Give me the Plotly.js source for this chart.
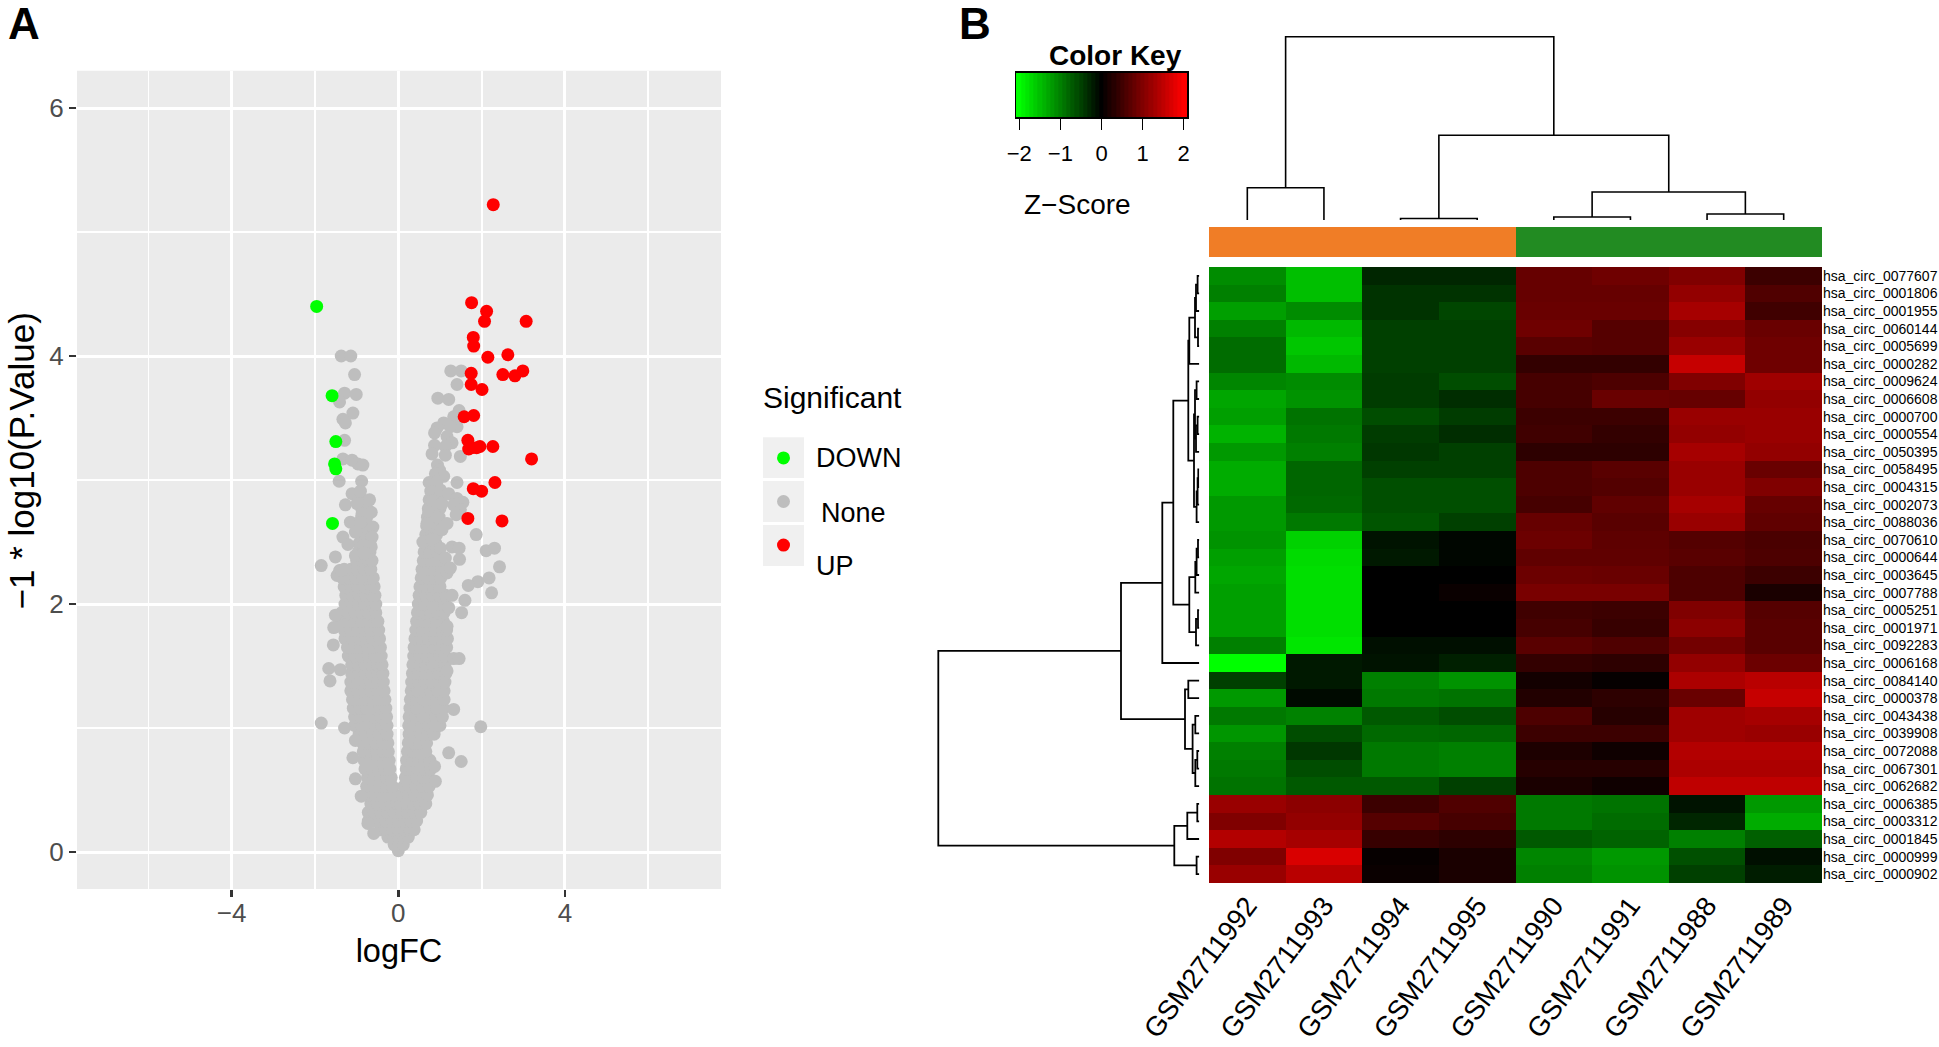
<!DOCTYPE html>
<html><head><meta charset="utf-8">
<script src="https://cdn.plot.ly/plotly-3.0.1.min.js"></script>
<style>html,body{margin:0;padding:0;background:#fff}</style></head>
<body><div id="chart" style="width:1939px;height:1047px"></div>
<script>
// ---------- Panel A: volcano ----------
const upX=[2.28,1.76,2.12,2.07,3.07,1.80,1.81,2.15,2.63,1.75,2.51,2.80,2.99,1.75,2.01,1.58,1.81,1.67,1.69,1.76,1.88,1.96,2.27,3.20,2.32,1.80,2.00,1.67,2.49];
const upY=[5.22,4.43,4.36,4.28,4.28,4.15,4.08,3.99,4.01,3.86,3.85,3.84,3.88,3.77,3.73,3.51,3.52,3.32,3.25,3.26,3.26,3.27,3.27,3.17,2.98,2.93,2.91,2.69,2.67];
const downX=[-1.96,-1.59,-1.50,-1.53,-1.50,-1.58];
const downY=[4.40,3.68,3.31,3.13,3.09,2.65];
const greyOutX=[-1.37,-1.14,-1.05,-1.29,-1.01,-1.41,-1.09,-1.33,-1.27,-1.29,-1.33,-1.11,-.97,-.85,-1.42,-.88,-1.11,-.91,-.69,-1.27,-.99,-.65,-.87,-1.15,-.91,-.61,-1.03,-1.33,-1.21,-.63,-.65,-.83,-1.51,-1.03,-.83,-1.85,-1.41,-1.47,-1.37,-1.51,-1.55,-1.56,-1.67,-1.64,-1.39,-1.85,-1.29,-1.03,-1.09,-1.03,-.89,-.73,-.59,
1.26,1.51,1.41,.95,1.21,1.46,1.33,1.09,.93,.87,1.41,1.25,1.17,1.29,.87,1.13,.81,1.13,1.49,.94,.99,.89,1.09,.74,.93,1.41,.81,1.01,1.21,1.41,1.55,1.33,.81,1.05,1.49,1.39,.73,.93,.69,1.17,1.05,.59,.81,1.29,1.46,1.87,2.11,2.31,1.01,1.47,1.13,2.43,2.24,2.18,1.91,1.68,1.60,1.52,1.17,1.33,1.46,1.17,1.33,1.98,1.21,1.51,.87,.89,1.21,1.29,1.17,1.25];
const greyOutY=[4.00,4.00,3.85,3.70,3.69,3.63,3.54,3.49,3.46,3.32,3.17,3.16,3.13,3.12,2.99,2.99,2.89,2.91,2.84,2.80,2.81,2.74,2.73,2.66,2.66,2.62,2.58,2.54,2.48,2.54,2.46,2.47,2.38,2.39,2.41,2.31,2.27,2.23,2.27,1.91,1.81,1.67,1.48,1.38,1.47,1.04,1.00,.90,.76,.59,.45,.23,.15,
3.88,3.88,3.77,3.66,3.65,3.56,3.51,3.46,3.42,3.38,3.43,3.43,3.35,3.30,3.28,3.27,3.21,3.20,3.19,3.12,3.08,3.05,3.03,2.98,2.99,2.98,2.91,2.92,2.89,2.85,2.82,2.80,2.83,2.81,2.76,2.72,2.74,2.70,2.65,2.65,2.60,2.50,2.52,2.46,2.45,2.56,2.43,2.45,2.45,2.36,2.37,2.30,2.09,2.21,2.18,2.15,2.03,1.93,1.82,1.56,1.56,1.46,1.15,1.01,.80,.73,.69,.57,1.97,2.07,2.25,2.29];
const greyMassY=[.01,.06,.12,.18,.25,.32,.39,.46,.53,.60,.67,.74,.81,.88,.95,1.02,1.09,1.16,1.23,1.30,1.37,1.44,1.51,1.58,1.65,1.72,1.79,1.86,1.93,2.00,2.07,2.14,2.21,2.28,2.35,2.42,2.49,2.56,2.63,2.70,2.77,2.84,2.91];
const greyMassX=[[0],[-.1,.02,.12],[-.25,-.12,0,.12,.24],[-.42,-.28,-.14,0,.14,.28,.38],[-.72,-.58,-.44,-.3,-.15,0,.15,.3,.44],
[-.72,-.58,-.42,-.26,-.1,.08,.22,.38,.54],[-.66,-.5,-.34,-.18,-.03,.05,.2,.36,.52,.66],[-.7,-.55,-.4,-.25,-.09,.08,.24,.4,.56,.7],[-.76,-.6,-.44,-.28,-.14,.13,.26,.42,.58,.74],[-.74,-.58,-.42,-.28,-.17,.17,.3,.44,.6,.74],
[-.8,-.64,-.48,-.32,-.2,.19,.32,.46,.62,.78],[-.82,-.66,-.5,-.34,-.22,.2,.34,.48,.64,.76],[-.84,-.68,-.52,-.36,-.24,.22,.36,.5,.66],[-.86,-.7,-.54,-.38,-.25,.24,.38,.52,.68],[-.94,-.78,-.62,-.46,-.36,-.27,.26,.38,.54,.7,.86],
[-1.05,-.88,-.72,-.56,-.4,-.27,.25,.4,.56,.72,.9,1.0],[-1.05,-.9,-.74,-.58,-.42,-.28,.26,.42,.58,.74,.9,1.06],[-1.08,-.92,-.76,-.6,-.44,-.3,.28,.44,.6,.76,.92,1.08],[-1.1,-.94,-.78,-.62,-.46,-.32,.29,.44,.6,.76,.92,1.1],[-1.14,-.98,-.82,-.66,-.5,-.34,.31,.46,.62,.78,.94,1.1],
[-1.14,-.98,-.82,-.66,-.5,-.36,.32,.48,.64,.8,.96,1.12],[-1.12,-.96,-.8,-.64,-.5,-.37,.34,.5,.66,.82,.98,1.14],[-1.12,-.96,-.8,-.64,-.5,-.39,.35,.5,.66,.82,.98,1.12],[-1.2,-1.04,-.88,-.72,-.56,-.41,.37,.52,.68,.84,1.0,1.12],[-1.22,-1.06,-.9,-.74,-.58,-.43,.38,.54,.7,.86,1.02,1.16],
[-1.28,-1.1,-.94,-.78,-.62,-.45,.4,.56,.72,.88,1.04,1.18],[-1.3,-1.14,-.98,-.82,-.66,-.47,.42,.58,.74,.9,1.06,1.16],[-1.38,-1.2,-1.04,-.88,-.72,-.56,-.49,.44,.6,.76,.92,1.08],[-1.36,-1.2,-1.04,-.88,-.72,-.54,.46,.62,.78,.94,1.1],[-1.28,-1.12,-.96,-.8,-.64,-.54,.48,.64,.8,.96,1.12],
[-1.26,-1.1,-.94,-.78,-.62,-.56,.5,.66,.82,.98,1.14],[-1.3,-1.14,-.98,-.82,-.66,-.58,.52,.68,.84,1],[-1.34,-1.18,-1.02,-.86,-.7,-.6,.55,.7,.86,1.02],[-1.3,-1.14,-.98,-.82,-.66,.57,.72,.88,1.04],[-1.0,-.86,-.72,-.63,.6,.76,.9,1.02],
[-.96,-.82,-.68,.62,.76,.92],[-.94,-.8,-.68,.64,.78,.9],[-.92,-.78,-.68,.66,.8,.92],[-.9,-.76,.68,.82,.98],[-.88,-.76,.7,.84,.98],[-.88,-.76,.72,.86,1.0],[-.86,.74,.86,.98],[.78,.9]];
const xTicks=[-4,0,4], xTickText=['\u22124','0','4'], xMinor=[-6,-2,2,6];
const yTicks=[0,2,4,6], yMinor=[1,3,5];
const legendLabels=['DOWN','None','UP'];
const legendColors=['#00FF00','#BEBEBE','#FF0000'];

// ---------- Panel B: heatmap ----------
const samples=['GSM2711992','GSM2711993','GSM2711994','GSM2711995','GSM2711990','GSM2711991','GSM2711988','GSM2711989'];
const sampleGroup=[0,0,0,0,1,1,1,1];
const circIds=['0077607','0001806','0001955','0060144','0005699','0000282','0009624','0006608','0000700','0000554','0050395','0058495','0004315','0002073','0088036','0070610','0000644','0003645','0007788','0005251','0001971','0092283','0006168','0084140','0000378','0043438','0039908','0072088','0067301','0062682','0006385','0003312','0001845','0000999','0000902'];
const zScores=[
[-1.1,-1.5,-.3,-.3,.8,.87,1.0,.47],[-1,-1.5,-.4,-.4,.8,.8,1.15,.63],[-1.25,-1.1,-.4,-.55,.82,.82,1.3,.5],[-1,-1.45,-.5,-.5,.87,.67,1.05,.82],[-.85,-1.55,-.5,-.5,.7,.67,1.2,.87],
[-.85,-1.45,-.5,-.5,.4,.4,1.55,.87],[-1.05,-1.1,-.47,-.6,.55,.6,1,1.25],[-1.3,-1.15,-.47,-.35,.55,.82,.8,1.15],[-1.25,-.9,-.6,-.47,.47,.47,1.2,1.2],[-1.4,-.95,-.47,-.35,.5,.4,1.15,1.2],
[-1.2,-1,-.43,-.5,.35,.35,1.3,1.15],[-1.35,-.8,-.5,-.5,.6,.7,1.2,.82],[-1.35,-.8,-.62,-.62,.6,.65,1.2,1],[-1.2,-.82,-.62,-.62,.55,.75,1.3,.8],[-1.2,-.95,-.67,-.5,.8,.7,1.2,.75],
[-1.15,-1.65,-.15,-.05,.85,.74,.66,.58],[-1.25,-1.72,-.2,-.05,.75,.75,.7,.6],[-1.3,-1.75,0,0,.85,.82,.6,.47],[-1.25,-1.75,0,.08,.95,.95,.6,.2],[-1.25,-1.75,0,0,.5,.47,1,.67],
[-1.25,-1.75,0,0,.55,.43,1.1,.7],[-1,-1.8,-.12,-.12,.7,.62,.9,.7],[-2,-.2,-.15,-.25,.4,.35,1.15,.85],[-.5,-.2,-1,-1.15,.15,.05,1.35,1.45],[-1.2,-.08,-.95,-.9,.27,.35,.82,1.55],
[-.95,-1.02,-.7,-.6,.6,.3,1.25,1.3],[-1.18,-.6,-.82,-.8,.47,.47,1.25,1.2],[-1,-.43,-.95,-1,.23,.12,1.4,1.4],[-.95,-.6,-.95,-1,.3,.3,1.35,1.35],[-.9,-.7,-.7,-.5,.2,.12,1.5,1.5],
[1.2,1.1,.47,.63,-.95,-.9,-.15,-1.2],[1,1.15,.67,.55,-.95,-.85,-.3,-1.35],[1.4,1.3,.43,.35,-.7,-.78,-1,-.75],[1,1.7,.05,.2,-1.05,-1.2,-.63,-.12],[1.2,1.45,.08,.2,-1,-1.15,-.5,-.23]];
const keyValues=[-2.08,-2,-1.9,-1.8,-1.7,-1.6,-1.5,-1.4,-1.3,-1.2,-1.1,-1,-.9,-.8,-.7,-.6,-.5,-.4,-.3,-.2,-.1,0,.1,.2,.3,.4,.5,.6,.7,.8,.9,1,1.1,1.2,1.3,1.4,1.5,1.6,1.7,1.8,1.9,2,2.08];
const keyTicks=[-2,-1,0,1,2], keyTickText=['\u22122','\u22121','0','1','2'];
// dendrogram merges, hclust style: negative = leaf -(index+1), positive = earlier merge (1-based)
const rowMergeA=[-1,1,-4,2,4,-7,-9,7,6,-12,10,11,9,5,-16,15,16,-20,18,17,14,21,-24,-26,-28,25,24,23,22,-31,30,-34,31,29];
const rowMergeB=[-2,-3,-5,3,-6,-8,-10,-11,8,-13,-14,-15,12,13,-17,-18,-19,-21,-22,19,20,-23,-25,-27,-29,-30,26,27,28,-32,-33,-35,32,33];
const rowMergeH=[1.7,3.3,1.3,4.3,10,2.7,1.7,3.3,4.3,1,1.7,2.7,5.3,11,1.3,2.7,4,1.3,3.3,10,26,37,11,4,2,4,6.7,14.3,78.3,2,12,2.7,25,261];
const colMergeA=[-1,-3,-5,-7,3,2,1];
const colMergeB=[-2,-4,-6,-8,4,5,6];
const colMergeH=[32.3,1.5,3,6,28,84.7,183.3];

// ---------- geometry helpers (page pixels to paper fractions) ----------
const W=1939,H=1047;
const dx=(a,b)=>[a/W,b/W];
const dy=(top,bot)=>[1-bot/H,1-top/H];
const FONT='"Liberation Sans",Arial,sans-serif';

function dendro(A,B,Hh){
  const pos=[],ht=[],cx=[],ch=[];
  const get=i=>i<0?[-i-1,0]:[cx[i-1],ch[i-1]];
  A.forEach((a,k)=>{
    const [p1,h1]=get(a),[p2,h2]=get(B[k]),h=Hh[k];
    pos.push(p1,p1,p2,p2,null); ht.push(h1,h,h,h2,null);
    cx.push((p1+p2)/2); ch.push(h);
  });
  return {pos,ht};
}
const rowD=dendro(rowMergeA,rowMergeB,rowMergeH);
const colD=dendro(colMergeA,colMergeB,colMergeH);
const greyX=[].concat(...greyMassX,greyOutX);
const greyY=[].concat(...greyMassX.map((r,i)=>r.map(()=>greyMassY[i])),greyOutY);
const gkr=[[0,'#00FF00'],[.5,'#000000'],[1,'#FF0000']];
const rows=circIds.map((_,i)=>i), cols=samples.map((_,i)=>i);
const dot=(c)=>({size:13,color:c,line:{width:0}});

const traces=[
 {type:'scatter',mode:'markers',name:'None',x:greyX,y:greyY,marker:dot('#BEBEBE'),xaxis:'x',yaxis:'y',hoverinfo:'skip'},
 {type:'scatter',mode:'markers',name:'DOWN',x:downX,y:downY,marker:dot('#00FF00'),xaxis:'x',yaxis:'y'},
 {type:'scatter',mode:'markers',name:'UP',x:upX,y:upY,marker:dot('#FF0000'),xaxis:'x',yaxis:'y'},
 {type:'heatmap',x:cols,y:rows,z:zScores,zmin:-2,zmax:2,colorscale:gkr,showscale:false,xaxis:'x2',yaxis:'y2'},
 {type:'heatmap',x:keyValues,y:[0],z:[keyValues],zmin:-2,zmax:2,colorscale:gkr,showscale:false,xaxis:'x3',yaxis:'y3',hoverinfo:'skip'},
 {type:'heatmap',x:cols,y:[0],z:[sampleGroup],zmin:0,zmax:1,colorscale:[[0,'#F07D26'],[1,'#228B22']],showscale:false,xaxis:'x4',yaxis:'y4',hoverinfo:'skip'},
 {type:'scatter',mode:'lines',x:rowD.ht,y:rowD.pos,line:{color:'#000',width:1.8},xaxis:'x5',yaxis:'y5',connectgaps:false,hoverinfo:'skip'},
 {type:'scatter',mode:'lines',x:colD.pos,y:colD.ht,line:{color:'#000',width:1.6},xaxis:'x6',yaxis:'y6',connectgaps:false,hoverinfo:'skip'},
 {type:'scatter',mode:'markers',x:legendLabels.map(()=>0),y:legendLabels.map((_,i)=>i),marker:{size:13,color:legendColors},xaxis:'x7',yaxis:'y7',hoverinfo:'skip'}
];
const off={visible:false,fixedrange:true};
const panelRect={type:'rect',xref:'paper',yref:'paper',x0:77/W,x1:721/W,y0:1-889/H,y1:1-70.7/H,fillcolor:'#EBEBEB',line:{width:0},layer:'below'};
const layout={
 width:W,height:H,autosize:false,margin:{l:0,r:0,t:0,b:0,pad:0},paper_bgcolor:'#fff',plot_bgcolor:'rgba(0,0,0,0)',showlegend:false,
 font:{family:FONT,color:'#000'},hovermode:false,
 xaxis:{domain:dx(77,721),range:[(77-398.3)/41.65,(721-398.3)/41.65],anchor:'y',tickmode:'array',tickvals:xTicks,ticktext:xTickText,
   showgrid:true,gridcolor:'#fff',gridwidth:3,zeroline:false,ticks:'outside',ticklen:7,tickwidth:2.6,tickcolor:'#333',
   tickfont:{size:26,color:'#4D4D4D'},showline:false,ticklabelstandoff:-6,
   minor:{tickmode:'array',tickvals:xMinor,showgrid:true,gridcolor:'#fff',gridwidth:1.8,ticks:''},
   title:{text:'logFC',font:{size:32.5,color:'#000'},standoff:12}},
 yaxis:{domain:dy(70.7,889),range:[(852-889)/124,(852-70.7)/124],anchor:'x',tickmode:'array',tickvals:yTicks,
   showgrid:true,gridcolor:'#fff',gridwidth:3,zeroline:false,ticks:'outside',ticklen:7,tickwidth:2.6,tickcolor:'#333',
   tickfont:{size:26,color:'#4D4D4D'},showline:false,
   minor:{tickmode:'array',tickvals:yMinor,showgrid:true,gridcolor:'#fff',gridwidth:1.8,ticks:''}},
 xaxis2:{domain:dx(1209,1822),range:[-.5,7.5],anchor:'y2',tickmode:'array',tickvals:cols,ticktext:samples,tickangle:-53,
   tickfont:{size:27.5,color:'#000'},ticks:'',showgrid:false,zeroline:false,showline:false},
 yaxis2:{domain:dy(267,883),range:[34.5,-.5],anchor:'x2',side:'right',tickmode:'array',tickvals:rows,ticktext:circIds.map(s=>'hsa_circ_'+s),
   tickfont:{size:14,color:'#000'},ticks:'',showgrid:false,zeroline:false,showline:false},
 xaxis3:{domain:dx(1016,1187),range:[-2.08,2.08],anchor:'y3',tickmode:'array',tickvals:keyTicks,ticktext:keyTickText,ticks:'outside',ticklen:11,tickwidth:1.5,tickcolor:'#000',
   tickfont:{size:22,color:'#000'},showline:true,linecolor:'#000',linewidth:2,mirror:true,showgrid:false,zeroline:false,ticklabelstandoff:5},
 yaxis3:{domain:dy(73,117),range:[-.5,.5],anchor:'x3',showline:true,linecolor:'#000',linewidth:1.5,mirror:true,showticklabels:false,ticks:'',showgrid:false,zeroline:false},
 xaxis4:Object.assign({domain:dx(1209,1822),range:[-.5,7.5],anchor:'y4'},off),
 yaxis4:Object.assign({domain:dy(227,257.3),range:[-.5,.5],anchor:'x4'},off),
 xaxis5:Object.assign({domain:dx(929.3,1199.3),range:[270,0],anchor:'y5'},off),
 yaxis5:Object.assign({domain:dy(267,883),range:[34.5,-.5],anchor:'x5'},off),
 xaxis6:Object.assign({domain:dx(1209,1822),range:[-.5,7.5],anchor:'y6'},off),
 yaxis6:Object.assign({domain:dy(30,220),range:[0,190],anchor:'x6'},off),
 xaxis7:Object.assign({domain:dx(763,804),range:[-.5,.5],anchor:'y7'},off),
 yaxis7:Object.assign({domain:dy(437,566),range:[2.48,-.48],anchor:'x7'},off),
 shapes:[panelRect].concat([[437.3,478],[481,522],[525,566]].map(([t,b])=>({type:'rect',xref:'paper',yref:'paper',x0:763/W,x1:804/W,y0:1-t/H,y1:1-b/H,fillcolor:'#F0F0F0',line:{width:0},layer:'below'}))),
 annotations:[
  {text:'A',px:24,py:24,s:44,b:1},{text:'B',px:975,py:24,s:44,b:1},
  {text:'Color Key',px:1115,py:55,s:28,b:1},{text:'Z\u2212Score',px:1077,py:205,s:28},
  {text:'Significant',px:762,py:397,s:30,a:'left'},
  {text:'DOWN',px:815,py:458,s:27,a:'left'},{text:'None',px:820,py:513,s:27,a:'left'},{text:'UP',px:815,py:566,s:27,a:'left'},
  {text:'\u22121 * log10(P.Value)',px:20.5,py:461,s:35,r:-90}
 ].map(o=>({text:o.b?'<b>'+o.text+'</b>':o.text,xref:'paper',yref:'paper',x:o.px/W,y:1-o.py/H,xanchor:o.a||'center',yanchor:'middle',textangle:o.r||0,showarrow:false,font:{size:o.s,color:'#000',family:FONT},borderpad:0}))
};
Plotly.newPlot('chart',traces,layout,{staticPlot:true,displayModeBar:false});
</script></body></html>
